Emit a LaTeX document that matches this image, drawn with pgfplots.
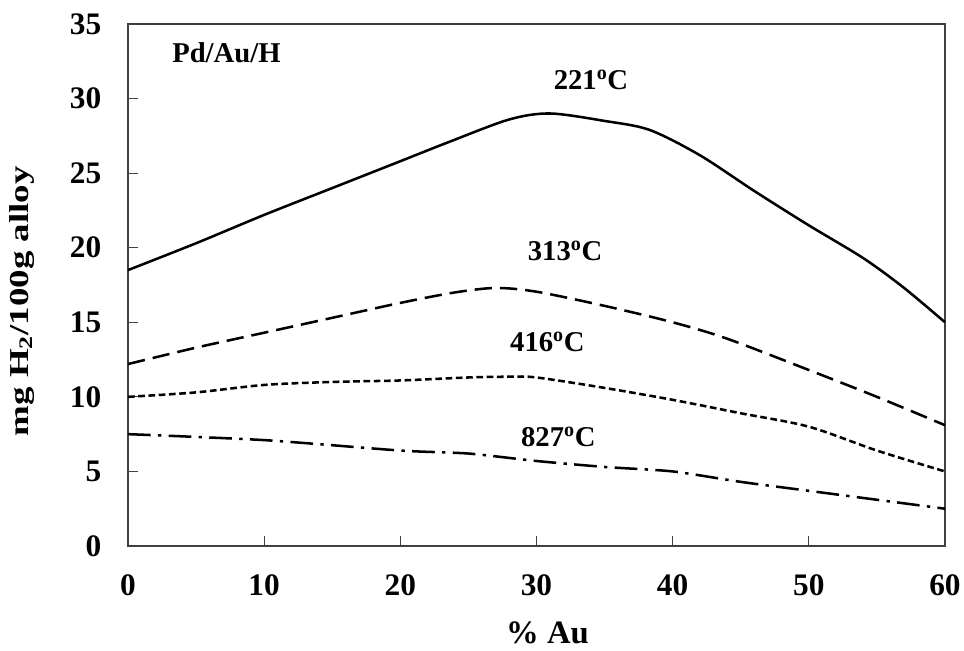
\documentclass[border=0pt]{standalone}
\usepackage{graphicx}
\usepackage{pgfplots}
\pgfplotsset{compat=1.18}
\usepackage{fontspec}
\setmainfont{Liberation Serif}
\begin{document}
\begin{tikzpicture}
\begin{axis}[
  scale only axis,
  width=612.75pt, height=391.5pt,
  xmin=0, xmax=60, ymin=0, ymax=35,
  xtick={0,10,...,60}, ytick={0,5,...,35},
  tick pos=left, tick align=inside,
  major tick length=7.5pt,
  axis line style={line width=1.3pt, black!75},
  tick style={line width=0.8pt, black!75},
  /pgf/number format/assume math mode=true,
  ticklabel style={font=\fontsize{23.5}{26}\selectfont\bfseries},
  yticklabel style={xshift=-16.5pt},
  xticklabel style={yshift=-18pt},
  xlabel={\% Au},
  ylabel={\scalebox{1.35}[1]{mg H\textsubscript{2}/100g alloy}},
  xlabel style={font=\fontsize{24.5}{27}\selectfont\bfseries, at={(axis description cs:0.5135,-0.167)}, anchor=center},
  ylabel style={font=\fontsize{20.5}{23}\selectfont\bfseries, at={(axis description cs:-0.130,0.469)}, anchor=center},
  clip=false,
]
\addplot[black, line width=1.9pt, smooth, tension=0.5] coordinates {
(0,18.5) (5,20.3) (10,22.2) (15,24.0) (20,25.8) (23.6,27.1) (28,28.6) (31,29.0) (35,28.5) (38.3,27.9) (42,26.2) (46,23.8) (50,21.5) (54,19.3) (57,17.3) (60,15.0)};
\addplot[black, line width=1.9pt, smooth, tension=0.5, dash pattern=on 13pt off 6pt] coordinates {
(0,12.2) (5,13.3) (10,14.3) (15,15.3) (20,16.3) (24,17.0) (27,17.3) (30,17.05) (35,16.1) (40,15.0) (44,13.9) (50,11.8) (55,10.0) (60,8.1)};
\addplot[black, line width=1.9pt, smooth, tension=0.5, dash pattern=on 5pt off 2.7pt] coordinates {
(0,10.0) (5,10.3) (10,10.8) (15,11.0) (20,11.1) (25,11.3) (28,11.35) (30,11.3) (35,10.6) (40,9.8) (45,8.9) (50,8.0) (55,6.4) (60,5.0)};
\addplot[black, line width=1.9pt, smooth, tension=0.4, dash pattern=on 17pt off 5.5pt on 2.5pt off 5.5pt] coordinates {
(0,7.5) (10,7.1) (20,6.4) (25,6.2) (30,5.7) (35,5.3) (40,5.0) (45,4.3) (50,3.7) (55,3.1) (60,2.5)};
\node[font=\fontsize{21.5}{24}\selectfont\bfseries] at (axis cs:7.23,33.1) {Pd/Au/H};
\node[font=\fontsize{21.5}{24}\selectfont\bfseries] at (axis cs:34.0,31.25) {221\textsuperscript{o}C};
\node[font=\fontsize{21.5}{24}\selectfont\bfseries] at (axis cs:32.1,19.8) {313\textsuperscript{o}C};
\node[font=\fontsize{21.5}{24}\selectfont\bfseries] at (axis cs:30.8,13.7) {416\textsuperscript{o}C};
\node[font=\fontsize{21.5}{24}\selectfont\bfseries] at (axis cs:31.6,7.3) {827\textsuperscript{o}C};
\end{axis}
\pgfresetboundingbox
\path[use as bounding box] ([shift={(-96pt,-78pt)}]current axis.south west) rectangle ([shift={(627pt,409.5pt)}]current axis.south west);
\end{tikzpicture}
\end{document}
